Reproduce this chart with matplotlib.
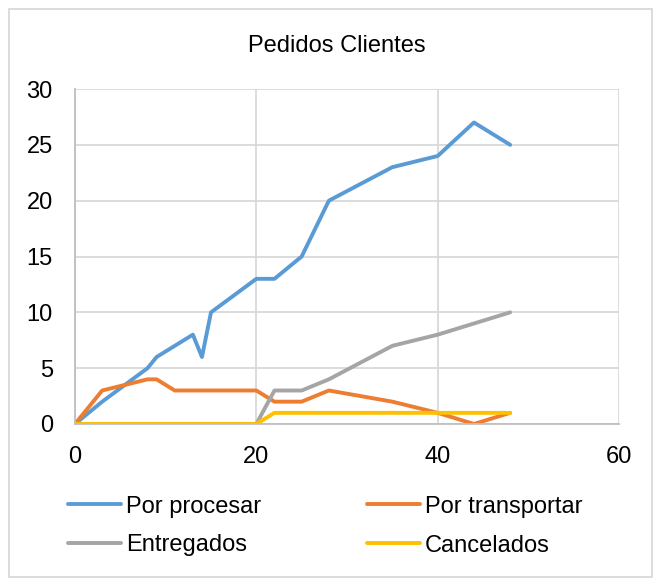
import numpy as np
import matplotlib
matplotlib.use('Agg')
import matplotlib.pyplot as plt
from matplotlib.patches import Rectangle

plt.rcParams['font.family'] = ['Liberation Sans', 'DejaVu Sans']

title = 'Pedidos Clientes'
x = [0, 3, 8, 9, 11, 13, 14, 15, 20, 22, 25, 28, 35, 40, 44, 48]
por_procesar = [0, 2, 5, 6, 7, 8, 6, 10, 13, 13, 15, 20, 23, 24, 27, 25]
por_transportar = [0, 3, 4, 4, 3, 3, 3, 3, 3, 2, 2, 3, 2, 1, 0, 1]
entregados = [0, 0, 0, 0, 0, 0, 0, 0, 0, 3, 3, 4, 7, 8, 9, 10]
cancelados = [0, 0, 0, 0, 0, 0, 0, 0, 0, 1, 1, 1, 1, 1, 1, 1]

series = [
    ('Por procesar', por_procesar, '#5B9BD5'),
    ('Por transportar', por_transportar, '#ED7D31'),
    ('Entregados', entregados, '#A5A5A5'),
    ('Cancelados', cancelados, '#FFC000'),
]

fig = plt.figure(figsize=(6.61, 5.84), dpi=100)
ax = fig.add_axes([75/661, 1 - 424/584, (619 - 75)/661, (424 - 89)/584])

for name, vals, col in series:
    ax.plot(x, vals, color=col, lw=2.8, label=name, solid_capstyle='round',
            solid_joinstyle='round')

ax.set_xlim(0, 60)
ax.set_ylim(0, 30)
ax.set_xticks([0, 20, 40, 60])
ax.set_yticks([0, 5, 10, 15, 20, 25, 30])
ax.grid(True, color='#D9D9D9', lw=1.3)
ax.set_axisbelow(True)
for s in ['top', 'right']:
    ax.spines[s].set_visible(False)
ax.spines['left'].set_color('#BFBFBF')
ax.spines['bottom'].set_color('#BFBFBF')
ax.spines['left'].set_linewidth(1.3)
ax.spines['bottom'].set_linewidth(1.3)
ax.tick_params(axis='both', length=0, labelsize=17, colors='black')
ax.tick_params(axis='y', pad=16)
ax.tick_params(axis='x', pad=16)

fig.text(337/661, 1 - 46/584, title, ha='center', va='center', fontsize=17)

h, l = ax.get_legend_handles_labels()
order = [0, 2, 1, 3]
fig.legend([h[i] for i in order], [l[i] for i in order], ncol=2,
           loc='center left', bbox_to_anchor=(56/661, 1 - 526/584),
           frameon=False, fontsize=17, handlelength=2.25, handletextpad=0.2,
           columnspacing=4.5, labelspacing=0.72, borderpad=0)

fig.add_artist(Rectangle((9/661, 1 - 577/584), 643/661, 568/584,
                         transform=fig.transFigure, fill=False,
                         edgecolor='#D9D9D9', lw=1.3))

fig.savefig('out.png', dpi=100)
